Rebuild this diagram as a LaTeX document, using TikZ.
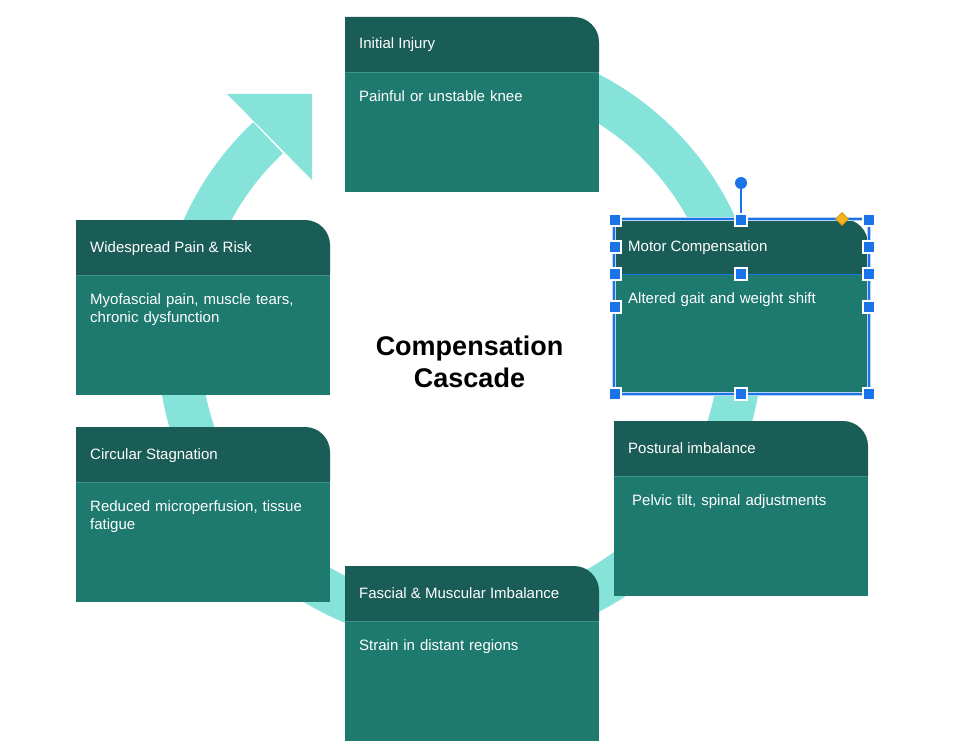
\documentclass[tikz,border=0pt]{standalone}
\usepackage{fontspec}
\setmainfont{Liberation Sans}
\definecolor{ringc}{HTML}{85E3D9}
\definecolor{headc}{HTML}{1A5C56}
\definecolor{bodyc}{HTML}{1E796E}
\definecolor{sepc}{HTML}{3E938A}
\definecolor{selc}{HTML}{1A73E8}
\definecolor{selhalo}{HTML}{B9D3F7}
\definecolor{diamc}{HTML}{F2B51D}
\definecolor{diamd}{HTML}{C98A00}
\tikzset{
  headtext/.style={anchor=base west, inner sep=0pt, text=white, font=\fontsize{15}{18}\selectfont},
  bodytext/.style={anchor=north west, inner sep=0pt, text=white, font=\fontsize{15}{18}\selectfont, text width=240pt, align=left},
  boxframe/.style={anchor=north west, inner sep=0pt, minimum width=254pt, minimum height=175pt},
  sepline/.style={draw=sepc, line width=0.8pt},
  ringline/.style={draw=ringc, line width=43pt},
  titletext/.style={align=center, inner sep=0pt, text=black, font=\bfseries\fontsize{27}{32}\selectfont},
  handle/.style={shape=rectangle, fill=selc, draw=white, line width=1.2pt, minimum size=12pt, inner sep=0pt},
  selline/.style={draw=selc, line width=1.3pt},
}
% name, x, y, title, body, body x offset
\newcommand\cascadebox[6]{%
  \fill[bodyc] (#2,#3+55) rectangle (#2+254,#3+175);
  \fill[headc] (#2,#3+55) -- (#2,#3) -- (#2+229,#3)
     arc[start angle=-90,end angle=0,radius=25] -- (#2+254,#3+55) -- cycle;
  \draw[sepline] (#2,#3+55) -- (#2+254,#3+55);
  \node[boxframe] (#1) at (#2,#3) {};
  \node[headtext] (#1-title) at (#2+14,#3+32) {#4};
  \node[bodytext] (#1-body) at (#2+#6,#3+71.4) {\strut #5};
}
\begin{document}
\begin{tikzpicture}[x=1pt,y=-1pt]
  \useasboundingbox (0,0) rectangle (963,746);
  \fill[white] (0,0) rectangle (963,746);
  % cycle ring with arrow
  \draw[ringline] (460,343) ++(-95:281) arc[start angle=-95,end angle=226.9,radius=281];
  \fill[ringc] (227,94) -- (312,94) -- (312,180) -- cycle;
  % boxes
  \cascadebox{injury}{345}{17}{Initial Injury}{Painful or unstable knee}{14}
  \cascadebox{motor}{614}{219}{Motor Compensation}{Altered gait and weight shift}{14}
  \cascadebox{postural}{614}{421}{Postural imbalance}{Pelvic tilt, spinal adjustments}{18}
  \cascadebox{fascial}{345}{566}{Fascial \& Muscular Imbalance}{Strain in distant regions}{14}
  \cascadebox{circular}{76}{427}{Circular Stagnation}{Reduced microperfusion, tissue\\fatigue}{14}
  \cascadebox{widespread}{76}{220}{Widespread Pain \& Risk}{Myofascial pain, muscle tears,\\chronic dysfunction}{14}
  % centre title
  \node[titletext] (title) at (469.5,362) {Compensation\\Cascade};
  % selection overlay on Motor Compensation
  \draw[selhalo, line width=3.5pt] (614,219) rectangle (869,394);
  \draw[selline] (614,219) rectangle (869,394);
  \draw[selline] (614,274.5) -- (869,274.5);
  \draw[selline] (741,219) -- (741,186);
  \fill[selc] (741,183) circle[radius=6];
  \filldraw[fill=diamc, draw=diamd, line width=0.6pt] (842,212.5) -- (848.5,219) -- (842,225.5) -- (835.5,219) -- cycle;
  \node[handle] (h1) at (615,220) {};
  \node[handle] (h2) at (741,220) {};
  \node[handle] (h3) at (869,220) {};
  \node[handle] (h4) at (615,247) {};
  \node[handle] (h5) at (869,247) {};
  \node[handle] (h6) at (615,274) {};
  \node[handle] (h7) at (741,274) {};
  \node[handle] (h8) at (869,274) {};
  \node[handle] (h9) at (615,307) {};
  \node[handle] (h10) at (869,307) {};
  \node[handle] (h11) at (615,394) {};
  \node[handle] (h12) at (741,394) {};
  \node[handle] (h13) at (869,394) {};
\end{tikzpicture}
\end{document}
